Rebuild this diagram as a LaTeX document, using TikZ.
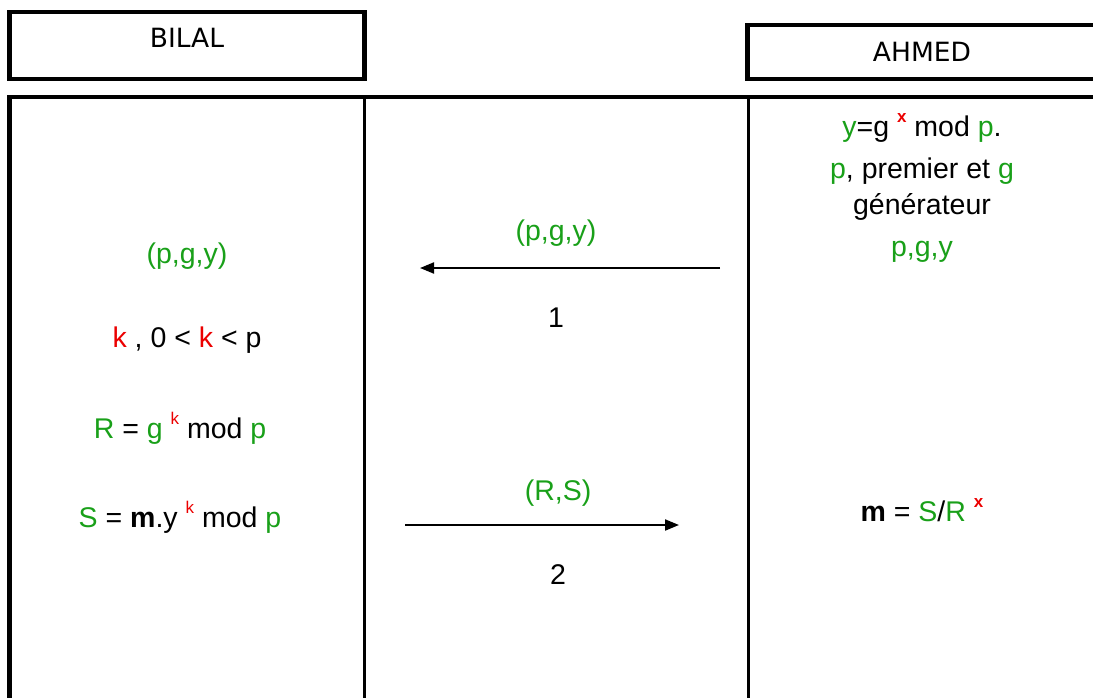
\documentclass[tikz,border=0pt]{standalone}
\usepackage{fontspec}
\setmainfont{Liberation Sans}
\newfontfamily\hdrfont{DejaVu Sans}
\usetikzlibrary{arrows.meta}
\definecolor{kgreen}{RGB}{25,160,25}
\definecolor{kred}{RGB}{235,0,0}
\newcommand{\gr}[1]{\textcolor{kgreen}{#1}}
\newcommand{\rd}[1]{\textcolor{kred}{#1}}
\newcommand{\supr}[1]{\raisebox{0.5em}{\fontsize{17}{17}\selectfont\textcolor{kred}{#1}}}
\newcommand{\supb}[1]{\raisebox{0.5em}{\fontsize{17}{17}\selectfont\bfseries\textcolor{kred}{#1}}}
\begin{document}
\begin{tikzpicture}[x=1pt,y=-1pt,
  frame/.style={line width=4.5pt},
  divider/.style={line width=3pt},
  header/.style={font=\hdrfont\fontsize{26.5}{30}\selectfont},
  body/.style={font=\fontsize{28.5}{32}\selectfont, inner sep=0pt},
  msg/.style={line width=2pt, -{Triangle[length=14pt,width=11pt]}}]
\useasboundingbox (0,0) rectangle (1093,697);
\clip (0,0) rectangle (1093,697);

% header boxes
\draw[frame] (9.5,12) rectangle (364.5,79);
\draw[frame] (747.5,25) rectangle (1110,79);
\node[header] (bilal) at (187,38) {BILAL};
\node[header] (ahmed) at (922,52) {AHMED};

% table frame
\draw[line width=4pt] (7,97) -- (1100,97);
\draw[line width=5pt] (9.5,95) -- (9.5,700);
\draw[divider] (364,97) -- (364,700);
\draw[divider] (748,97) -- (748,700);

% Ahmed's side
\node[body] (keygen) at (922,128) {\gr{y}=g \supb{x} mod \gr{p}.};
\node[body] (prime) at (922,171) {\gr{p}, premier et \gr{g}};
\node[body] (gen) at (922,207) {générateur};
\node[body] (pub) at (922,252) {\gr{p,g,y}};
\node[body] (dec) at (922,510) {\textbf{m} = \gr{S}/\gr{R} \supb{x}};

% Bilal's side
\node[body] (recv) at (187,256) {\gr{(p,g,y)}};
\node[body] (rand) at (187,340) {\rd{k} , 0 < \rd{k} < p};
\node[body] (rr) at (180,428) {\gr{R} = \gr{g} \supr{k} mod \gr{p}};
\node[body] (ss) at (180,517) {\gr{S} = \textbf{m}.y \supr{k} mod \gr{p}};

% messages
\coordinate (m1s) at (720,268);
\coordinate (m1e) at (420,268);
\coordinate (m2s) at (405,525);
\coordinate (m2e) at (679,525);
\draw[msg] (m1s) -- (m1e);
\draw[msg] (m2s) -- (m2e);
\node[body] (l1) at (556,233) {\gr{(p,g,y)}};
\node[body] (n1) at (556,318) {1};
\node[body] (l2) at (558,493) {\gr{(R,S)}};
\node[body] (n2) at (558,575) {2};
\end{tikzpicture}
\end{document}
